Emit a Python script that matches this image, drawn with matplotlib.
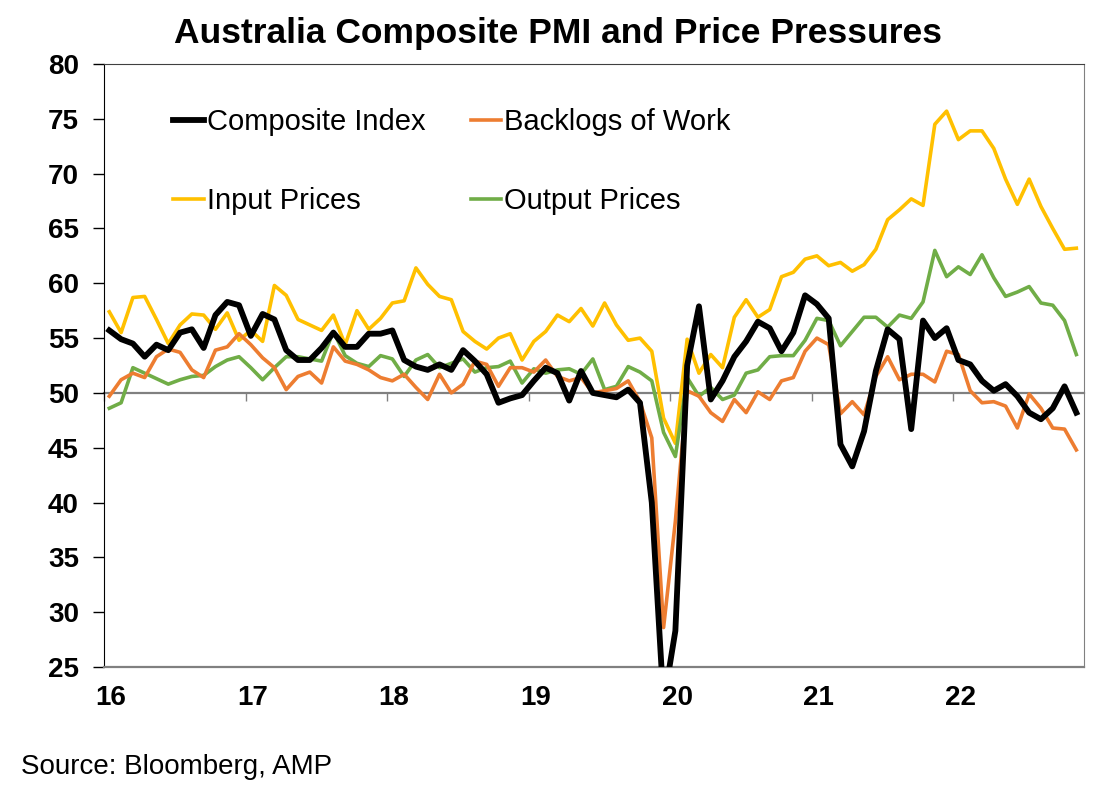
import numpy as np
import matplotlib
matplotlib.use("Agg")
import matplotlib.pyplot as plt

plt.rcParams['font.family'] = ['Liberation Sans', 'DejaVu Sans']

# monthly readings, first point = start of 2016 on the chart's axis
composite = [55.7, 54.9, 54.5, 53.3, 54.4, 53.9, 55.5, 55.8, 54.1, 57.1,
             58.3, 58.0, 55.2, 57.2, 56.7, 53.9, 53.0, 53.0, 54.1, 55.5,
             54.2, 54.2, 55.4, 55.4, 55.7, 53.0, 52.4, 52.1, 52.6, 52.1,
             53.9, 52.9, 51.7, 49.1, 49.5, 49.8, 51.1, 52.3, 51.8, 49.3,
             52.0, 50.0, 49.8, 49.6, 50.3, 49.1, 40.0, 21.7, 28.3, 52.5,
             57.9, 49.4, 51.1, 53.3, 54.7, 56.5, 55.9, 53.8, 55.5, 58.9,
             58.1, 56.8, 45.3, 43.3, 46.5, 52.0, 55.8, 54.9, 46.7, 56.6,
             55.0, 55.9, 53.0, 52.6, 51.1, 50.2, 50.8, 49.7, 48.2, 47.6,
             48.6, 50.6, 48.2]

backlogs = [49.7, 51.2, 51.8, 51.4, 53.3, 54.0, 53.7, 52.1, 51.4, 53.9,
            54.2, 55.4, 54.4, 53.2, 52.3, 50.3, 51.5, 51.9, 50.9, 54.2,
            52.9, 52.6, 52.1, 51.4, 51.1, 51.7, 50.5, 49.4, 51.7, 50.0,
            50.8, 52.9, 52.6, 50.6, 52.3, 52.3, 51.9, 53.0, 51.5, 51.1,
            51.4, 50.0, 50.2, 50.4, 51.1, 49.2, 45.9, 28.6, 38.3, 50.2,
            49.7, 48.2, 47.4, 49.4, 48.2, 50.1, 49.4, 51.1, 51.4, 53.8,
            55.0, 54.4, 48.1, 49.2, 48.0, 51.5, 53.3, 51.2, 51.7, 51.7,
            51.0, 53.8, 53.5, 50.2, 49.1, 49.2, 48.8, 46.8, 49.9, 48.6,
            46.8, 46.7, 44.8]

input_prices = [57.4, 55.5, 58.7, 58.8, 56.7, 54.5, 56.2, 57.2, 57.1, 55.8,
                57.3, 54.8, 55.7, 54.7, 59.8, 58.9, 56.7, 56.2, 55.7, 57.1,
                54.4, 57.5, 55.8, 56.8, 58.2, 58.4, 61.4, 59.9, 58.8, 58.5,
                55.6, 54.7, 54.0, 55.0, 55.4, 53.0, 54.7, 55.6, 57.1, 56.5,
                57.7, 56.1, 58.2, 56.2, 54.8, 55.0, 53.8, 47.7, 45.4, 54.9,
                51.8, 53.5, 52.3, 56.9, 58.5, 56.9, 57.6, 60.6, 61.0, 62.2,
                62.5, 61.6, 61.9, 61.1, 61.7, 63.1, 65.8, 66.7, 67.7, 67.1,
                74.5, 75.7, 73.1, 73.9, 73.9, 72.3, 69.5, 67.2, 69.5, 67.0,
                65.0, 63.1, 63.2]

output_prices = [48.6, 49.1, 52.3, 51.8, 51.3, 50.8, 51.2, 51.5, 51.6, 52.4,
                 53.0, 53.3, 52.3, 51.2, 52.3, 53.3, 53.3, 53.1, 52.9, 55.6,
                 53.4, 52.7, 52.4, 53.4, 53.1, 51.5, 53.0, 53.5, 52.3, 52.7,
                 53.1, 51.9, 52.3, 52.4, 52.9, 50.9, 52.2, 51.8, 52.1, 52.2,
                 51.7, 53.1, 50.3, 50.6, 52.4, 51.9, 51.1, 46.4, 44.2, 51.4,
                 49.7, 50.5, 49.4, 49.8, 51.8, 52.1, 53.3, 53.4, 53.4, 54.8,
                 56.8, 56.6, 54.3, 55.6, 56.9, 56.9, 56.0, 57.1, 56.8, 58.3,
                 63.0, 60.6, 61.5, 60.8, 62.6, 60.5, 58.8, 59.2, 59.7, 58.2,
                 58.0, 56.6, 53.5]

year_labels = ['16', '17', '18', '19', '20', '21', '22']
yticks = list(range(25, 81, 5))

months = np.arange(len(composite)) + 0.45

fig = plt.figure(figsize=(11.17, 7.99), dpi=100)
ax = fig.add_axes([104/1117, 1 - 667/799, 980/1117, 603/799])

ax.plot(months, input_prices, color='#FFC000', lw=2.6, label='Input Prices', zorder=3)
ax.plot(months, output_prices, color='#70AD47', lw=2.6, label='Output Prices', zorder=3)
ax.plot(months, backlogs, color='#ED7D31', lw=2.6, label='Backlogs of Work', zorder=4)
ax.plot(months, composite, color='black', lw=4.2, label='Composite Index', zorder=5)

ax.set_xlim(0, 83.1)
ax.set_ylim(25, 80)
ax.set_yticks(yticks)
ax.tick_params(axis='y', direction='out', length=8, width=1, pad=10, labelsize=20)
for lab in ax.get_yticklabels():
    lab.set_fontweight('bold')

# year labels along the bottom, no tick marks there
ax.set_xticks([12 * i + 0.6 for i in range(len(year_labels))])
ax.set_xticklabels(year_labels, fontsize=20, fontweight='bold')
ax.tick_params(axis='x', length=0, pad=13)

# the 50 line carries the year tick marks
sec = ax.secondary_xaxis((50 - 25) / (80 - 25))
sec.set_xticks([12 * i for i in range(len(year_labels))])
sec.set_xticklabels([])
sec.tick_params(axis='x', direction='out', length=6, width=1, color='#808080')
sec.spines['bottom'].set_color('#808080')
sec.spines['bottom'].set_linewidth(1.6)

ax.spines['left'].set_color('black')
ax.spines['top'].set_color('#404040')
ax.spines['right'].set_color('#808080')
ax.spines['bottom'].set_color('#808080')
ax.spines['bottom'].set_linewidth(1.6)

handles, labels = ax.get_legend_handles_labels()
order = [3, 0, 2, 1]
leg = ax.legend([handles[i] for i in order], [labels[i] for i in order],
                ncol=2, loc='upper left', bbox_to_anchor=(0.044, 0.97),
                frameon=False, fontsize=21, handlelength=1.05,
                handletextpad=0.1, columnspacing=1.55, labelspacing=1.75)

fig.text(0.5, 1 - 34/799, 'Australia Composite PMI and Price Pressures',
         ha='center', va='center', fontsize=25.5, fontweight='bold')
fig.text(21/1117, 1 - 767/799, 'Source: Bloomberg, AMP',
         ha='left', va='center', fontsize=20)

fig.savefig('out.png', dpi=100)
